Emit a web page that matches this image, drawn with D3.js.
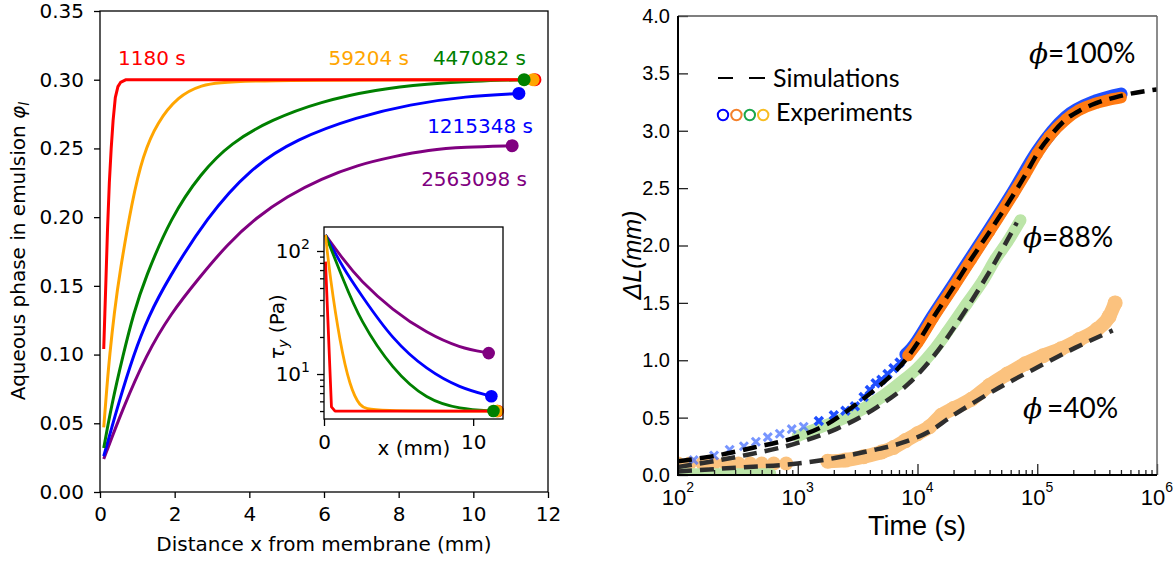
<!DOCTYPE html>
<html>
<head>
<meta charset="utf-8">
<script src="https://cdn.jsdelivr.net/npm/d3@7"></script>
<style>
  body { margin: 0; background: #fff; }
  .left text { font-family: "DejaVu Sans", sans-serif; }
  .right text { font-family: "Liberation Sans", Arial, sans-serif; }
</style>
</head>
<body>
<script>
// ---------- left panel: aqueous phase profiles phi_l(x) ----------
var profileLabels = ['1180 s', '59204 s', '447082 s', '1215348 s', '2563098 s'];

var xRed = [0.1, 0.13, 0.16, 0.2, 0.25, 0.3, 0.35, 0.41, 0.48, 0.55, 0.7, 11.65];
var phiRed = [0.104, 0.13, 0.155, 0.19, 0.225, 0.25, 0.27, 0.287, 0.295, 0.298, 0.3, 0.3];
var xOrange = [0.1, 0.18, 0.26, 0.38, 0.53, 0.86, 1.15, 1.53, 2.1, 2.68, 3.5, 11.6];
var phiOrange = [0.047, 0.075, 0.1, 0.13, 0.16, 0.212, 0.245, 0.269, 0.288, 0.296, 0.3, 0.3];
var xGreen = [0.1, 0.3, 0.62, 0.9, 1.2, 1.9, 2.7, 3.5, 4.6, 5.9, 7.4, 8.8, 10, 11.36];
var phiGreen = [0.032, 0.062, 0.1, 0.13, 0.155, 0.2, 0.232, 0.254, 0.271, 0.284, 0.293, 0.297, 0.299, 0.3];
var xBlue = [0.1, 0.5, 0.9, 1.3, 1.82, 2.87, 4.0, 5.26, 6.9, 8.3, 9.8, 11.22];
var phiBlue = [0.026, 0.065, 0.1, 0.128, 0.155, 0.2, 0.235, 0.257, 0.273, 0.282, 0.288, 0.29];
var xPurple = [0.1, 0.6, 1.24, 1.9, 2.63, 3.4, 4.2, 5.0, 5.93, 6.9, 7.85, 8.8, 9.76, 11.04];
var phiPurple = [0.024, 0.06, 0.1, 0.13, 0.155, 0.18, 0.2, 0.215, 0.228, 0.238, 0.244, 0.249, 0.251, 0.252];

// inset: yield stress tau_y(x), log scale
var tauXRed = [0.1, 0.5, 0.74, 11.65];
var tauRed = [82, 5.4, 5.0, 5.0];
var tauXOrange = [0.1, 0.4, 1.07, 1.74, 2.4, 3.1, 11.6];
var tauOrange = [135, 62, 17.9, 7.9, 5.4, 5.0, 5.0];
var tauXGreen = [0.1, 1.3, 2.4, 4.6, 6.9, 9.1, 11.36];
var tauGreen = [135, 58, 27.5, 10.8, 6.15, 5.2, 5.0];
var tauXBlue = [0.1, 1.3, 2.4, 4.6, 6.9, 9.1, 11.22];
var tauBlue = [135, 72, 45.6, 18.9, 10.8, 7.7, 6.6];
var tauXPurple = [0.1, 1.3, 2.4, 4.6, 6.9, 9.1, 11.04];
var tauPurple = [135, 85, 58, 33, 21.5, 16.3, 14.8];

var xTicksL = [0, 2, 4, 6, 8, 10, 12];
var yTicksL = [0, 0.05, 0.10, 0.15, 0.20, 0.25, 0.30, 0.35];

// ---------- right panel: delta L vs time ----------
var simT100 = [100, 200, 430, 910, 1740, 3100, 5100, 7900, 10000, 13500, 20000, 28000, 40000, 63000, 80000, 100000, 130000, 174000, 230000, 310000, 480000, 1000000];
var simL100 = [0.12, 0.165, 0.24, 0.32, 0.44, 0.62, 0.80, 1.0, 1.15, 1.37, 1.64, 1.88, 2.12, 2.44, 2.62, 2.8, 2.96, 3.1, 3.18, 3.24, 3.3, 3.36];
var simT88 = [100, 316, 1000, 2090, 4570, 8510, 13500, 25700, 44700, 67600];
var simL88 = [0.07, 0.16, 0.28, 0.40, 0.59, 0.80, 1.03, 1.45, 1.86, 2.2];
var simT40 = [100, 316, 1000, 2090, 3980, 7940, 12600, 18600, 47900, 110000, 209000, 427000];
var simL40 = [0.03, 0.065, 0.10, 0.15, 0.21, 0.29, 0.38, 0.50, 0.76, 0.96, 1.11, 1.26];

var expTBlue = [135, 200, 270, 355, 447, 562, 708, 891, 1120, 1500, 2000, 2500, 3000, 3550, 4000, 4470, 5000, 5620, 6300, 7080, 8000, 8910, 13500, 20000, 28200, 39800, 63100, 100000, 174000, 309000, 501000];
var expLBlue = [0.13, 0.17, 0.22, 0.25, 0.29, 0.33, 0.36, 0.40, 0.42, 0.47, 0.52, 0.56, 0.60, 0.68, 0.74, 0.80, 0.83, 0.88, 0.93, 0.98, 1.05, 1.10, 1.39, 1.66, 1.90, 2.14, 2.47, 2.82, 3.12, 3.26, 3.32];
var expTOrange = [8320, 10000, 13500, 20000, 28200, 39800, 63100, 79400, 100000, 126000, 174000, 224000, 309000, 398000, 501000];
var expLOrange = [1.04, 1.15, 1.37, 1.64, 1.88, 2.12, 2.45, 2.62, 2.80, 2.95, 3.10, 3.18, 3.24, 3.27, 3.29];
var expTGreenLow = [100, 150, 220, 330, 480, 600];
var expLGreenLow = [0.015, 0.015, 0.015, 0.015, 0.015, 0.015];
var expTGreen = [1000, 1260, 1780, 2510, 3550, 5010, 7080, 10000, 13500, 17800, 25700, 35500, 44700, 56200, 72400];
var expLGreen = [0.34, 0.38, 0.44, 0.50, 0.58, 0.68, 0.80, 0.93, 1.08, 1.25, 1.49, 1.70, 1.88, 2.03, 2.22];
var expTPeachLow = [100, 125, 160, 200, 250, 320, 400, 500, 630, 800];
var expLPeachLow = [0.10, 0.10, 0.10, 0.10, 0.10, 0.10, 0.10, 0.10, 0.10, 0.10];
var expTPeach = [1780, 2510, 3550, 5010, 6310, 7940, 10000, 12600, 15800, 20000, 28200, 39800, 56200, 79400, 112000, 158000, 224000, 316000, 398000, 447000];
var expLPeach = [0.12, 0.13, 0.16, 0.20, 0.24, 0.30, 0.36, 0.42, 0.52, 0.58, 0.66, 0.78, 0.88, 0.97, 1.04, 1.10, 1.18, 1.27, 1.38, 1.50];

var yTicksR = [0, 0.5, 1, 1.5, 2, 2.5, 3, 3.5, 4];
var xTicksR = [1e2, 1e3, 1e4, 1e5, 1e6];
var phiLabels = ['=100%', '=88%', '=40%'];

// ---------- drawing ----------
var svg = d3.select("body").append("svg").attr("width", 1175).attr("height", 562);
svg.append("rect").attr("width", 1175).attr("height", 562).attr("fill", "#fff");

var colors = ['#ff0000', '#ffa500', '#008000', '#0000ff', '#800080'];

var left = svg.append("g").attr("class", "left");
var xL = d3.scaleLinear().domain([0, 12]).range([100, 548]);
var yL = d3.scaleLinear().domain([0, 0.35]).range([492, 11]);

left.append("g").attr("transform", "translate(0,492)")
  .call(d3.axisBottom(xL).tickValues(xTicksL).tickSize(6).tickPadding(9).tickFormat(d3.format("d")))
  .call(function(g) { g.select(".domain").remove(); });
left.append("g").attr("transform", "translate(100,0)")
  .call(d3.axisLeft(yL).tickValues(yTicksL).tickSize(6).tickPadding(10).tickFormat(d3.format(".2f")))
  .call(function(g) { g.select(".domain").remove(); });
left.selectAll(".tick text").attr("font-size", 20).attr("fill", "#000");
left.selectAll(".tick line").attr("stroke-width", 1.3);

var profX = [xRed, xOrange, xGreen, xBlue, xPurple];
var profPhi = [phiRed, phiOrange, phiGreen, phiBlue, phiPurple];
var lineL = d3.line().x(function(d) { return xL(d[0]); }).y(function(d) { return yL(d[1]); }).curve(d3.curveBasis);

for (var i = 4; i >= 0; i--) {
  var pts = d3.zip(profX[i], profPhi[i]);
  left.append("path").attr("d", lineL.curve(i === 0 ? d3.curveLinear : d3.curveBasis)(pts))
    .attr("fill", "none").attr("stroke", colors[i]).attr("stroke-width", 3).attr("stroke-linejoin", "round");
}
for (var i = 0; i < 5; i++) {
  var last = profX[i].length - 1;
  left.append("circle").attr("cx", xL(profX[i][last])).attr("cy", yL(profPhi[i][last])).attr("r", 6.5).attr("fill", colors[i]);
}

left.append("rect").attr("x", 100).attr("y", 11).attr("width", 448).attr("height", 481)
  .attr("fill", "none").attr("stroke", "#000").attr("stroke-width", 1.3);

// time labels
var labPos = [[118, 65, "start"], [409, 65, "end"], [526, 65, "end"], [533, 133, "end"], [527, 186, "end"]];
profileLabels.forEach(function(t, i) {
  left.append("text").attr("x", labPos[i][0]).attr("y", labPos[i][1]).attr("text-anchor", labPos[i][2])
    .attr("font-size", 20).attr("fill", colors[i]).text(t);
});

left.append("text").attr("x", 324).attr("y", 551).attr("text-anchor", "middle").attr("font-size", 20)
  .text("Distance x from membrane (mm)");
var yl = left.append("text").attr("transform", "translate(25,251) rotate(-90)").attr("text-anchor", "middle").attr("font-size", 20);
yl.append("tspan").text("Aqueous phase in emulsion ");
yl.append("tspan").attr("font-style", "italic").text("\u03c6");
yl.append("tspan").attr("font-style", "italic").attr("font-size", 14).attr("dy", 4).text("l");

// inset
var inset = left.append("g");
var xI = d3.scaleLinear().domain([0, 12]).range([324, 503]);
var yI = d3.scaleLog().domain([4.31, 156.7]).range([419, 227]);
inset.append("rect").attr("x", 324).attr("y", 227).attr("width", 179).attr("height", 192).attr("fill", "#fff");

var tauXs = [tauXRed, tauXOrange, tauXGreen, tauXBlue, tauXPurple];
var taus = [tauRed, tauOrange, tauGreen, tauBlue, tauPurple];
var lineI = d3.line().x(function(d) { return xI(d[0]); }).y(function(d) { return yI(d[1]); });
for (var i = 4; i >= 0; i--) {
  inset.append("path").attr("d", lineI.curve(i === 0 ? d3.curveLinear : d3.curveBasis)(d3.zip(tauXs[i], taus[i])))
    .attr("fill", "none").attr("stroke", colors[i]).attr("stroke-width", 2.8).attr("stroke-linejoin", "round");
}
for (var i = 0; i < 5; i++) {
  var n = tauXs[i].length - 1;
  inset.append("circle").attr("cx", xI(tauXs[i][n])).attr("cy", yI(taus[i][n])).attr("r", 6.3).attr("fill", colors[i]);
}
inset.append("rect").attr("x", 324).attr("y", 227).attr("width", 179).attr("height", 192)
  .attr("fill", "none").attr("stroke", "#000").attr("stroke-width", 1.3);

inset.append("g").attr("transform", "translate(0,419)")
  .call(d3.axisBottom(xI).tickValues([0, 10]).tickSize(7).tickPadding(9).tickFormat(d3.format("d")))
  .call(function(g) { g.select(".domain").remove(); });
var minorI = [5, 6, 7, 8, 9, 20, 30, 40, 50, 60, 70, 80, 90];
inset.append("g").attr("transform", "translate(324,0)")
  .call(d3.axisLeft(yI).tickValues(minorI).tickSize(4).tickFormat(""))
  .call(function(g) { g.select(".domain").remove(); });
inset.append("g").attr("transform", "translate(324,0)")
  .call(d3.axisLeft(yI).tickValues([10, 100]).tickSize(7).tickFormat(""))
  .call(function(g) { g.select(".domain").remove(); });
inset.selectAll(".tick text").attr("font-size", 20).attr("fill", "#000");
inset.selectAll(".tick line").attr("stroke-width", 1.3);
[[10, "1"], [100, "2"]].forEach(function(d) {
  var t = inset.append("text").attr("x", 310).attr("y", yI(d[0]) + 7).attr("text-anchor", "end").attr("font-size", 20);
  t.append("tspan").text("10");
  t.append("tspan").attr("font-size", 14).attr("dy", -9).text(d[1]);
});
inset.append("text").attr("x", 414).attr("y", 455).attr("text-anchor", "middle").attr("font-size", 20).text("x (mm)");
var tl = inset.append("text").attr("transform", "translate(284,327) rotate(-90)").attr("text-anchor", "middle").attr("font-size", 20);
tl.append("tspan").attr("font-style", "italic").text("\u03c4");
tl.append("tspan").attr("font-style", "italic").attr("font-size", 14).attr("dy", 4).text("y");
tl.append("tspan").attr("dy", -4).text(" (Pa)");

// ---------- right panel ----------
var right = svg.append("g").attr("class", "right");
var xR = d3.scaleLog().domain([1e2, 1e6]).range([678, 1157]);
var yR = d3.scaleLinear().domain([0, 4]).range([475, 16]);

svg.append("clipPath").attr("id", "clipR").append("rect").attr("x", 678).attr("y", 16).attr("width", 479).attr("height", 459);
var plot = right.append("g").attr("clip-path", "url(#clipR)");

var lineR = d3.line().x(function(d) { return xR(d[0]); }).y(function(d) { return yR(d[1]); }).curve(d3.curveMonotoneX);
var cross = "M-4,-4L4,4M-4,4L4,-4";

function band(pts, color, width) {
  plot.append("path").attr("d", lineR(pts)).attr("fill", "none").attr("stroke", color)
    .attr("stroke-width", width).attr("stroke-linecap", "round").attr("stroke-linejoin", "round");
}
function circles(pts, color, r) {
  plot.selectAll(null).data(pts).enter().append("circle")
    .attr("cx", function(d) { return xR(d[0]); }).attr("cy", function(d) { return yR(d[1]); })
    .attr("r", r).attr("fill", color);
}
function crosses(pts, color, w, op) {
  plot.selectAll(null).data(pts).enter().append("path")
    .attr("transform", function(d) { return "translate(" + xR(d[0]) + "," + yR(d[1]) + ")"; })
    .attr("d", cross).attr("stroke", color).attr("stroke-width", w).attr("fill", "none").attr("opacity", op);
}

// phi = 40 %
var peach = "#fbc27e";
circles(d3.zip(expTPeachLow, expLPeachLow), peach, 7);
band(d3.zip(expTPeach, expLPeach), peach, 14);
circles(d3.zip(expTPeach, expLPeach), peach, 7.5);
// phi = 88 %
var lgreen = "#bce5a8";
band(d3.zip(expTGreenLow, expLGreenLow), lgreen, 10);
band(d3.zip(expTGreen, expLGreen), lgreen, 12);
crosses(d3.zip(expTGreen, expLGreen), lgreen, 4, 1);
// phi = 100 %
var bluePts = d3.zip(expTBlue, expLBlue);
crosses(bluePts.filter(function(d) { return d[0] < 1400; }), "#4a72ff", 3, 0.75);
crosses(bluePts.filter(function(d) { return d[0] >= 1400 && d[0] < 8000; }), "#1f4fff", 3.5, 1);
band(bluePts.filter(function(d) { return d[0] >= 8000; }), "#1f4fff", 13);
var orangePts = d3.zip(expTOrange, expLOrange);
band(orangePts, "#ff7a12", 11.5);
crosses(orangePts, "#ff7a12", 3.5, 1);

// simulations
[[simT40, simL40, "#2e2e2e"], [simT88, simL88, "#2e2e2e"], [simT100, simL100, "#000"]].forEach(function(s) {
  plot.append("path").attr("d", lineR(d3.zip(s[0], s[1]))).attr("fill", "none").attr("stroke", s[2])
    .attr("stroke-width", 4.5).attr("stroke-dasharray", "14,8");
});

// axes
right.append("g").attr("transform", "translate(678,0)")
  .call(d3.axisLeft(yR).tickValues(yTicksR).tickSizeInner(-10).tickSizeOuter(0).tickPadding(8).tickFormat(d3.format(".1f")))
  .call(function(g) { g.select(".domain").remove(); });
var minorR = [];
xTicksR.slice(0, 4).forEach(function(p) { for (var k = 2; k <= 9; k++) minorR.push(p * k); });
right.append("g").attr("transform", "translate(0,475)")
  .call(d3.axisBottom(xR).tickValues(minorR).tickSizeInner(-5).tickSizeOuter(0).tickFormat(""))
  .call(function(g) { g.select(".domain").remove(); });
right.append("g").attr("transform", "translate(0,475)")
  .call(d3.axisBottom(xR).tickValues(xTicksR).tickSizeInner(-11).tickSizeOuter(0).tickFormat(""))
  .call(function(g) { g.select(".domain").remove(); });
right.selectAll(".tick text").attr("font-size", 20).attr("fill", "#000");
right.selectAll(".tick line").attr("stroke-width", 1.3).attr("stroke", "#222");

xTicksR.forEach(function(v) {
  var t = right.append("text").attr("x", xR(v)).attr("y", 505).attr("text-anchor", "middle").attr("font-size", 22);
  t.append("tspan").text("10");
  t.append("tspan").attr("font-size", 14).attr("dy", -13).text(String(Math.round(Math.log10(v))));
});

right.append("line").attr("x1", 678).attr("x2", 1157).attr("y1", 16).attr("y2", 16).attr("stroke", "#555").attr("stroke-width", 1.5);
right.append("line").attr("x1", 1157).attr("x2", 1157).attr("y1", 16).attr("y2", 475).attr("stroke", "#666").attr("stroke-width", 1.5);
right.append("line").attr("x1", 678).attr("x2", 678).attr("y1", 16).attr("y2", 476).attr("stroke", "#000").attr("stroke-width", 2);
right.append("line").attr("x1", 677).attr("x2", 1157).attr("y1", 475).attr("y2", 475).attr("stroke", "#000").attr("stroke-width", 2);

right.append("text").attr("x", 917).attr("y", 535).attr("text-anchor", "middle").attr("font-size", 27).text("Time (s)");
right.append("text").attr("transform", "translate(641,255) rotate(-90)").attr("text-anchor", "middle")
  .attr("font-size", 25).attr("font-style", "italic").text("\u0394L(mm)");

// legend
var leg = right.append("g");
leg.append("line").attr("x1", 718).attr("x2", 733).attr("y1", 78).attr("y2", 78).attr("stroke", "#000").attr("stroke-width", 2);
leg.append("line").attr("x1", 749).attr("x2", 765).attr("y1", 78).attr("y2", 78).attr("stroke", "#000").attr("stroke-width", 2);
leg.append("text").attr("x", 773).attr("y", 87).attr("font-size", 25).style("font-family", "Lato, sans-serif").text("Simulations");
["#0000ff", "#f4802a", "#1aa64a", "#f7bd21"].forEach(function(c, i) {
  leg.append("circle").attr("cx", 723 + i * 13.4).attr("cy", 115).attr("r", 5.2).attr("fill", "none").attr("stroke", c).attr("stroke-width", 2);
});
leg.append("text").attr("x", 776).attr("y", 121).attr("font-size", 25).style("font-family", "Lato, sans-serif").text("Experiments");

// phi labels
var phiPos = [[1029, 63, 0], [1023, 247, 0], [1023, 418, 5]];
phiLabels.forEach(function(s, i) {
  var t = right.append("text").attr("x", phiPos[i][0]).attr("y", phiPos[i][1]).attr("font-size", 28).style("font-family", "Lato, sans-serif");
  t.append("tspan").style("font-family", "DejaVu Serif").attr("font-style", "italic").text("\u03d5");
  t.append("tspan").attr("dx", phiPos[i][2]).text(s);
});
</script>
</body>
</html>
